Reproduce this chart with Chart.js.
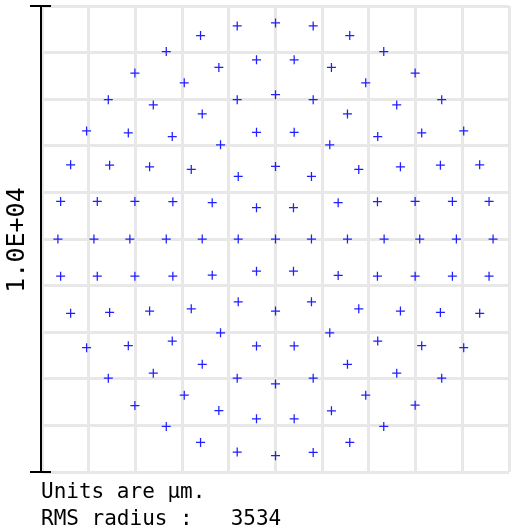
<!DOCTYPE html>
<html>
<head>
<meta charset="utf-8">
<script src="https://cdn.jsdelivr.net/npm/chart.js@4.4.1/dist/chart.umd.min.js"></script>
<style>
  html, body { margin: 0; padding: 0; background: #fff; }
  #wrap { position: relative; width: 516px; height: 530px; }
</style>
</head>
<body>
<div id="wrap"><canvas id="spot" width="516" height="530"></canvas></div>
<script>
// Spot positions in µm (x, y)
var spotX = [
  0, -820, 807, -1605, 1590, -2339, 2318, -407, 400, -1213, 1198, -3011, 2990, -1954, 1932,
  0, -3580, -820, 807, 3559, -2617, 2596, -1569, 1541, -4045, 4030, -407, 400, -3152, 3131,
  -2211, 2189, -1177, 1162, -4387, 4372, -3552, 3531, 0, -2696, 2675, -1804, 1783, -798, 770,
  -4601, 4573, -3816, 3788, -3011, 2990, -2198, 2183, -1355, 1342, -407, 385,
  -4659, -3888, -3118, -2339, -1569, -798, 0, 770, 1541, 2326, 3088, 3873, 4659,
  -4601, -3816, -3011, -2198, -1355, -407, 385, 1342, 2183, 2990, 3788, 4573,
  -4387, -3552, -2696, -1804, -798, 0, 770, 1783, 2675, 3531, 4372,
  -1177, 1162, -2211, 2189, -3152, 3131, -407, 400, -4045, 4030,
  -1569, 1541, -2617, 2596, -3580, -820, 807, 3559, 0, -1954, 1932,
  -3011, 2990, -1213, 1198, -407, 400, -2339, 2318, -1605, 1590, -820, 807, 0
];
var spotY = [
  4637, 4573, 4573, 4366, 4366, 4023, 4023, 3846, 3846, 3681, 3681, 3561, 3561, 3353, 3353,
  3097, 2990, 2990, 2990, 2990, 2876, 2876, 2684, 2684, 2320, 2320, 2290, 2290, 2277, 2277,
  2198, 2198, 2020, 2020, 1592, 1592, 1584, 1584, 1556, 1549, 1549, 1492, 1492, 1342, 1342,
  807, 807, 807, 807, 807, 807, 800, 800, 779, 779, 672, 672,
  0, 0, 0, 0, 0, 0, 0, 0, 0, 0, 0, 0, 0,
  -798, -798, -798, -798, -777, -691, -691, -783, -798, -798, -798, -798,
  -1596, -1575, -1547, -1498, -1348, -1547, -1348, -1498, -1547, -1575, -1596,
  -2012, -2012, -2189, -2189, -2290, -2290, -2296, -2296, -2333, -2333,
  -2688, -2688, -2880, -2880, -2987, -2987, -2987, -2987, -3109, -3351, -3351,
  -3574, -3565, -3681, -3687, -3858, -3858, -4023, -4023, -4366, -4366, -4571, -4580, -4650
];
var barLabel = '1.0E+04';
var noteLines = ['Units are \u00b5m.', 'RMS radius :   3534'];

var points = spotX.map(function (x, i) { return { x: x, y: spotY[i] }; });

var monoFont = '"DejaVu Sans Mono", "Liberation Mono", monospace';

// scale bar on the left and the text under the plot
var decorations = {
  id: 'decorations',
  afterDraw: function (chart) {
    var c = chart.ctx, a = chart.chartArea;
    var bx = a.left - 1;
    c.save();
    c.strokeStyle = '#000';
    c.lineWidth = 2;
    c.beginPath();
    c.moveTo(bx, a.top);
    c.lineTo(bx, a.bottom);
    c.moveTo(bx - 11, a.top);
    c.lineTo(bx + 10, a.top);
    c.moveTo(bx - 11, a.bottom);
    c.lineTo(bx + 10, a.bottom);
    c.stroke();

    c.fillStyle = '#000';
    c.font = '25px ' + monoFont;
    c.textAlign = 'center';
    c.textBaseline = 'middle';
    c.translate(17, (a.top + a.bottom) / 2 + 1);
    c.rotate(-Math.PI / 2);
    c.fillText(barLabel, 0, 0);
    c.restore();

    c.save();
    c.fillStyle = '#000';
    c.font = '21px ' + monoFont;
    c.textAlign = 'left';
    c.textBaseline = 'alphabetic';
    noteLines.forEach(function (t, i) {
      c.fillText(t, 41, 498 + i * 27);
    });
    c.restore();
  }
};

var gridOpts = {
  color: '#e8e8e8',
  lineWidth: 3,
  drawTicks: false
};

new Chart(document.getElementById('spot'), {
  type: 'scatter',
  data: {
    datasets: [{
      data: points,
      pointStyle: 'cross',
      pointRadius: 4.5,
      pointHoverRadius: 4.5,
      borderColor: '#1f1fff',
      borderWidth: 1.25
    }]
  },
  options: {
    responsive: false,
    animation: false,
    layout: { padding: { left: 42, right: 7, top: 6, bottom: 58 } },
    plugins: { legend: { display: false }, tooltip: { enabled: false } },
    scales: {
      x: {
        min: -5000, max: 5000,
        ticks: { display: false, stepSize: 1000 },
        grid: gridOpts,
        border: { display: false }
      },
      y: {
        min: -5000, max: 5000,
        ticks: { display: false, stepSize: 1000 },
        grid: gridOpts,
        border: { display: false }
      }
    }
  },
  plugins: [decorations]
});
</script>
</body>
</html>
